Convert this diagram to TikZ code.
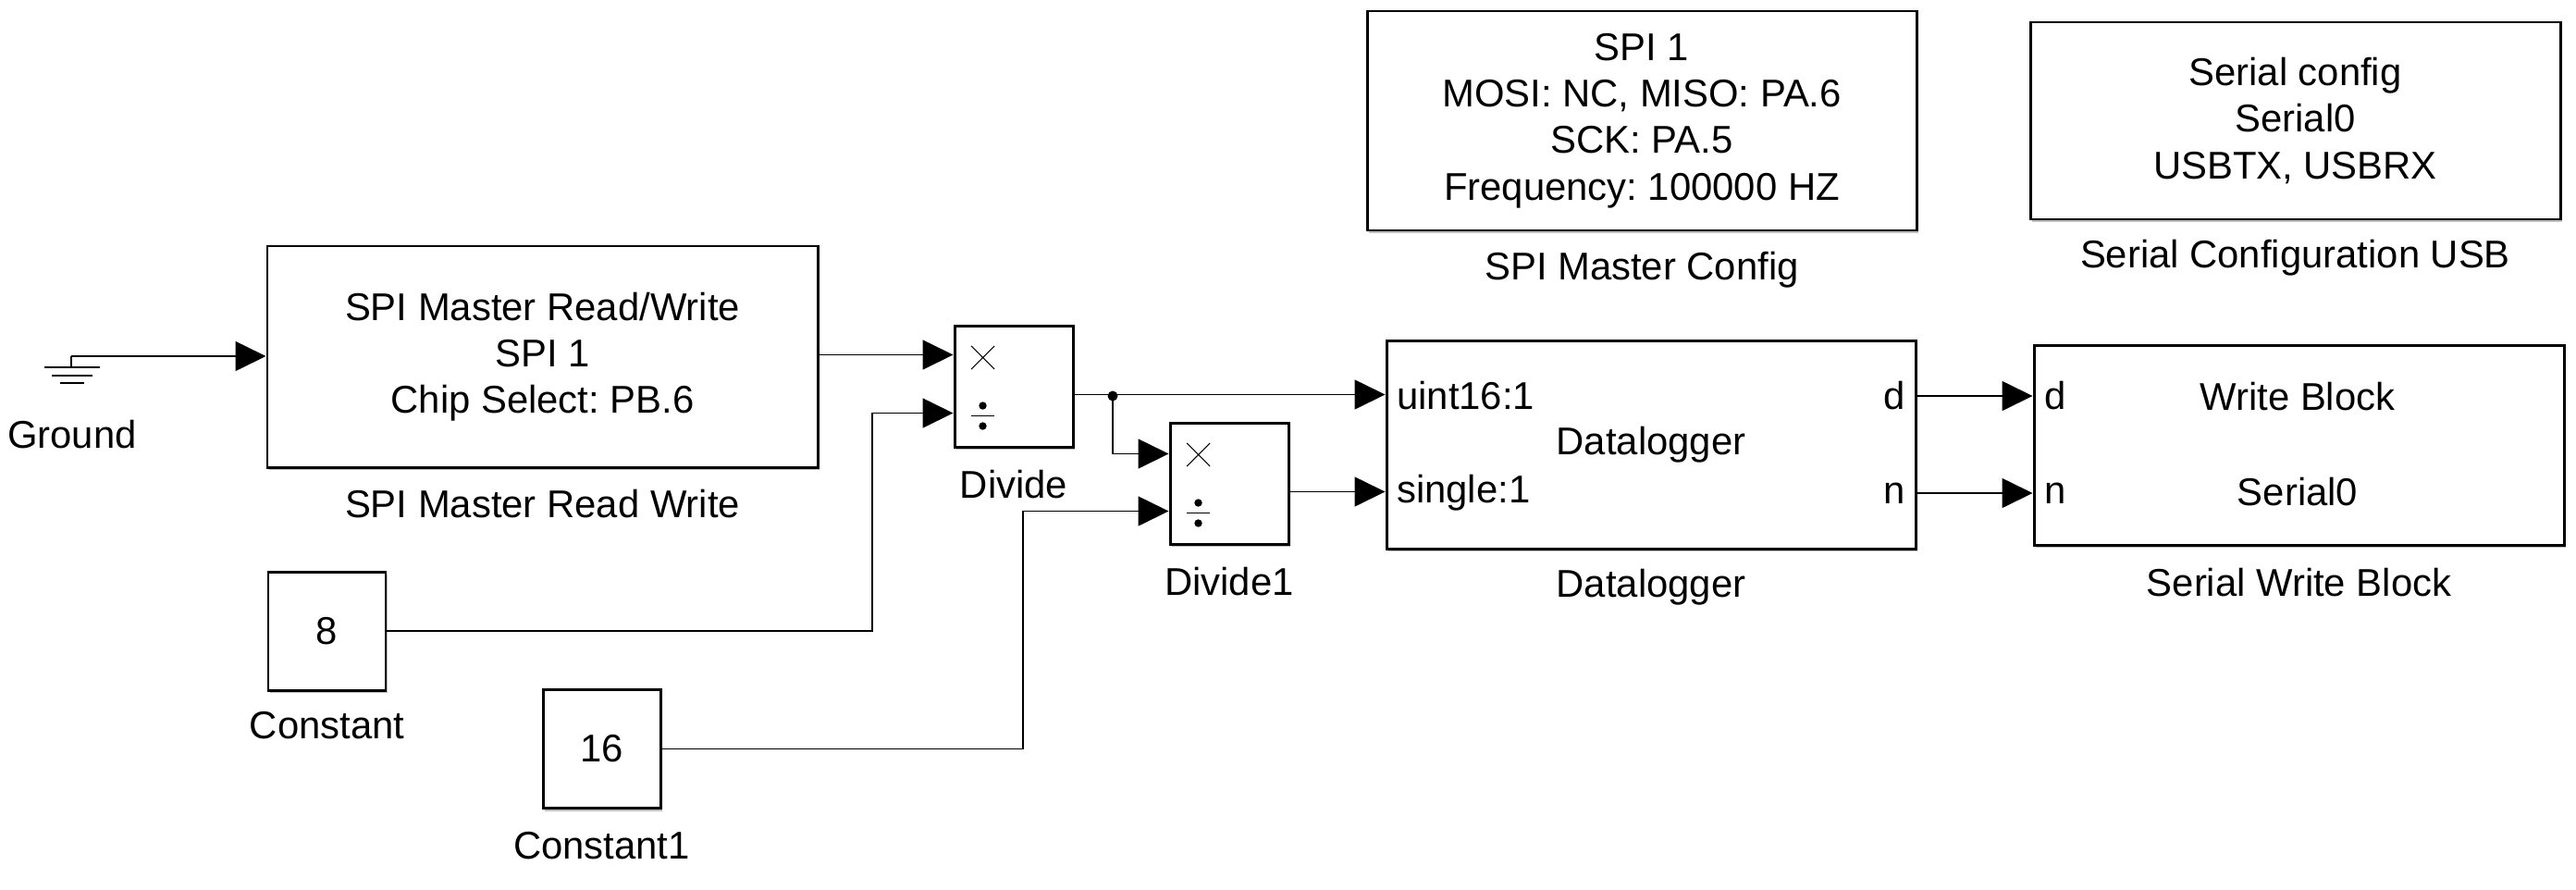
\documentclass[tikz,border=0pt]{standalone}
\usepackage{fontspec}
\setmainfont{Liberation Sans}
\usetikzlibrary{arrows.meta,shadows}
\frenchspacing

\begin{document}
\begin{tikzpicture}[font=\fontsize{11.9}{14.3}\selectfont,
        blk/.style={draw, line width=.85pt, fill=white, inner sep=0pt, align=center,
            drop shadow={shadow xshift=.5pt, shadow yshift=-.9pt, fill=black!50, opacity=.5}},
        lbl/.style={inner sep=0pt},
        sig/.style={line width=.45pt, -{Triangle[length=3.3mm, width=3.2mm]}},
        wire/.style={line width=.45pt}]
        \useasboundingbox (0,0) rectangle (27.85,-9.61);

        % blocks
        \node[blk, minimum width=5.95cm, minimum height=2.39cm] (spirw) at (5.865,-3.855)
            {SPI Master Read/Write\\SPI 1\\Chip Select: PB.6};
        \node[lbl] (spirw-l) at (5.865,-5.45) {SPI Master Read Write};
        \node[blk, minimum width=1.28cm, minimum height=1.31cm] (divA) at (10.96,-4.175) {};
        \node[lbl] (divA-l) at (10.96,-5.24) {Divide};
        \node[blk, minimum width=1.28cm, minimum height=1.31cm] (divB) at (13.29,-5.225) {};
        \node[lbl] (divB-l) at (13.29,-6.29) {Divide1};
        \node[blk, minimum width=1.27cm, minimum height=1.28cm] (cst) at (3.535,-6.82) {8};
        \node[lbl] (cst-l) at (3.535,-7.84) {Constant};
        \node[blk, minimum width=1.27cm, minimum height=1.28cm] (cstB) at (6.505,-8.095) {16};
        \node[lbl] (cstB-l) at (6.505,-9.14) {Constant1};
        \node[blk, minimum width=5.72cm, minimum height=2.25cm] (dlog) at (17.85,-4.805) {Datalogger};
        \node[lbl] (dlog-l) at (17.85,-6.35) {Datalogger};
        \node[blk, minimum width=5.73cm, minimum height=2.16cm] (swr) at (24.855,-4.81) {};
        \node[lbl] (swr-l) at (24.855,-6.30) {Serial Write Block};
        \node[blk, minimum width=5.94cm, minimum height=2.37cm] (spicfg) at (17.75,-1.305)
            {SPI 1\\MOSI: NC, MISO: PA.6\\SCK: PA.5\\Frequency: 100000 HZ};
        \node[lbl] (spicfg-l) at (17.75,-2.92) {SPI Master Config};
        \node[blk, minimum width=5.73cm, minimum height=2.13cm] (sercfg) at (24.815,-1.305)
            {Serial config\\Serial0\\USBTX, USBRX};
        \node[lbl] (sercfg-l) at (24.815,-2.79) {Serial Configuration USB};

        % ports
        \coordinate (pd) at (0,-4.28);
        \coordinate (pn) at (0,-5.33);
        \node[lbl, anchor=west] (dlog-u) at ([xshift=.12cm]dlog.west |- pd) {uint16:1};
        \node[lbl, anchor=west] (dlog-s) at ([xshift=.12cm]dlog.west |- pn) {single:1};
        \node[lbl, anchor=east] (dlog-d) at ([xshift=-.12cm]dlog.east |- pd) {d};
        \node[lbl, anchor=east] (dlog-n) at ([xshift=-.12cm]dlog.east |- pn) {n};
        \node[lbl, anchor=west] (swr-d) at ([xshift=.12cm]swr.west |- pd) {d};
        \node[lbl, anchor=west] (swr-n) at ([xshift=.12cm]swr.west |- pn) {n};
        \node[lbl] (swr-t) at (24.84,-4.29) {Write Block};
        \node[lbl] (swr-s) at (24.84,-5.32) {Serial0};

        % divide icons
        \foreach \d in {divA,divB}{
            \draw [line width=.3pt] ([xshift=.32cm, yshift=-.36cm]\d.north west)
                +(-.125,-.125)--+(.125,.125) +(-.125,.125)--+(.125,-.125);
            \draw [line width=.45pt] ([xshift=.32cm, yshift=-.99cm]\d.north west)
                +(-.125,0)--+(.125,0);
            \fill ([xshift=.32cm, yshift=-.88cm]\d.north west) circle (.042);
            \fill ([xshift=.32cm, yshift=-1.10cm]\d.north west) circle (.042);
        }

        % ground
        \coordinate (gnd) at (0.77,-3.85);
        \draw [wire] (gnd)--(0.77,-3.97);
        \draw [wire] (0.48,-3.97)--(1.08,-3.97) (0.56,-4.06)--(1.00,-4.06) (0.65,-4.14)--(0.91,-4.14);
        \node[lbl] (gnd-l) at (0.78,-4.70) {Ground};

        % signals
        \coordinate (divA-a) at ([yshift=-.33cm]divA.north west);
        \coordinate (divA-o) at ([yshift=-.76cm]divA.north east);
        \coordinate (divB-o) at ([yshift=-.76cm]divB.north east);
        \coordinate (jn) at (12.03,-4.28);
        \draw [sig] (gnd)--(gnd -| spirw.west);
        \draw [sig] (divA-a -| spirw.east)--(divA-a);
        \draw [sig] (cst.east)-|(9.43,-5.5)|-([yshift=-.96cm]divA.north west);
        \draw [sig] (divA-o)--(divA-o -| dlog.west);
        \draw [sig] (jn)|-([yshift=-.35cm]divB.north west);
        \fill (jn) circle (.055);
        \draw [sig] (cstB.east)-|(11.06,-6.5)|-([yshift=-.97cm]divB.north west);
        \draw [sig] (divB-o)--(divB-o -| dlog.west);
        \draw [sig] (dlog.east |- pd)--(swr.west |- pd);
        \draw [sig] (dlog.east |- pn)--(swr.west |- pn);

\end{tikzpicture}
\end{document}
